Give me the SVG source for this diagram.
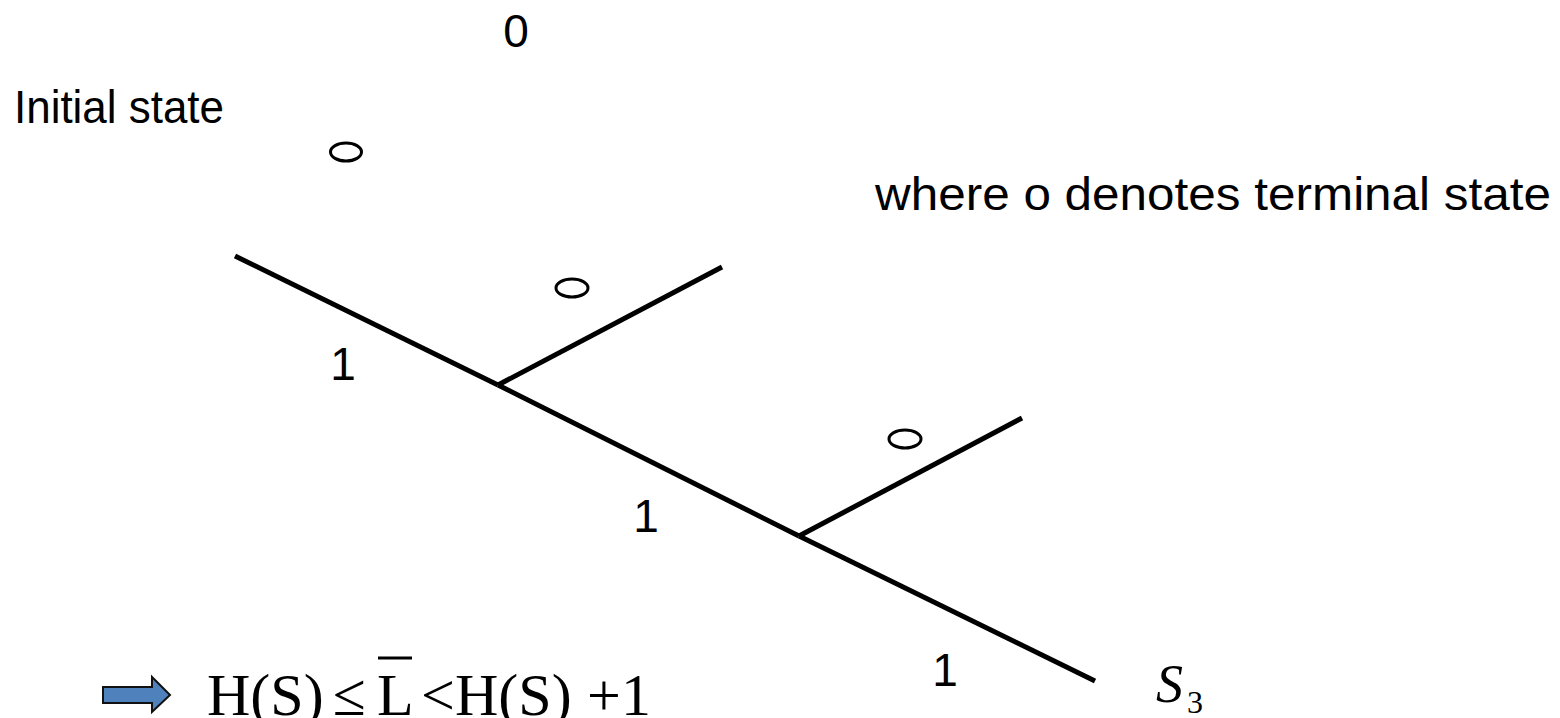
<svg xmlns="http://www.w3.org/2000/svg" width="1560" height="718" viewBox="0 0 1560 718">
<defs>
<style>
.lbl{font-family:"Liberation Sans",Arial,sans-serif;font-size:46px;fill:#000}
.math{font-family:"Liberation Serif","Times New Roman",serif;font-size:60px;fill:#000}
.edge{stroke:#000;stroke-width:5;fill:none;stroke-linecap:butt}
.term{stroke:#000;stroke-width:3;fill:none}
</style>
</defs>
<rect width="1560" height="718" fill="#fff"/>
<g id="labels">
<text class="lbl" x="516" y="47" text-anchor="middle">0</text>
<text class="lbl" x="14" y="123" textLength="210" lengthAdjust="spacingAndGlyphs">Initial state</text>
<text class="lbl" x="875" y="210" textLength="676" lengthAdjust="spacingAndGlyphs">where o denotes terminal state</text>
<text class="lbl" x="343" y="380" text-anchor="middle">1</text>
<text class="lbl" x="646" y="532" text-anchor="middle">1</text>
<text class="lbl" x="945" y="686" text-anchor="middle">1</text>
</g>
<g id="connectors">
<line class="edge" x1="235" y1="256" x2="498" y2="385"/>
<line class="edge" x1="498" y1="385" x2="722" y2="267"/>
<line class="edge" x1="498" y1="385" x2="799" y2="536"/>
<line class="edge" x1="799" y1="536" x2="1022" y2="418"/>
<line class="edge" x1="799" y1="536" x2="1095" y2="681"/>
</g>
<g id="terminals">
<ellipse id="t1" class="term" cx="346" cy="152" rx="15.5" ry="9"/>
<ellipse id="t2" class="term" cx="572" cy="288" rx="16" ry="9"/>
<ellipse id="t3" class="term" cx="905" cy="439" rx="16" ry="9"/>
</g>
<g id="s3">
<text class="math" x="1156" y="702" style="font-style:italic;font-size:54px">S</text>
<text class="math" x="1187" y="713" style="font-size:32px">3</text>
</g>
<g id="result">
<path d="M103 687 H152 V677 L170 695 L152 712 V703 H103 Z" fill="#4f81bd" stroke="#111" stroke-width="2"/>
<text class="math" y="715"><tspan x="207">H(S)</tspan><tspan x="333">≤</tspan><tspan x="377">L</tspan><tspan x="421">&lt;</tspan><tspan x="455">H(S)</tspan><tspan x="587">+</tspan><tspan x="621">1</tspan></text>
<line x1="378" y1="658" x2="412" y2="658" stroke="#000" stroke-width="3"/>
</g>
</svg>
